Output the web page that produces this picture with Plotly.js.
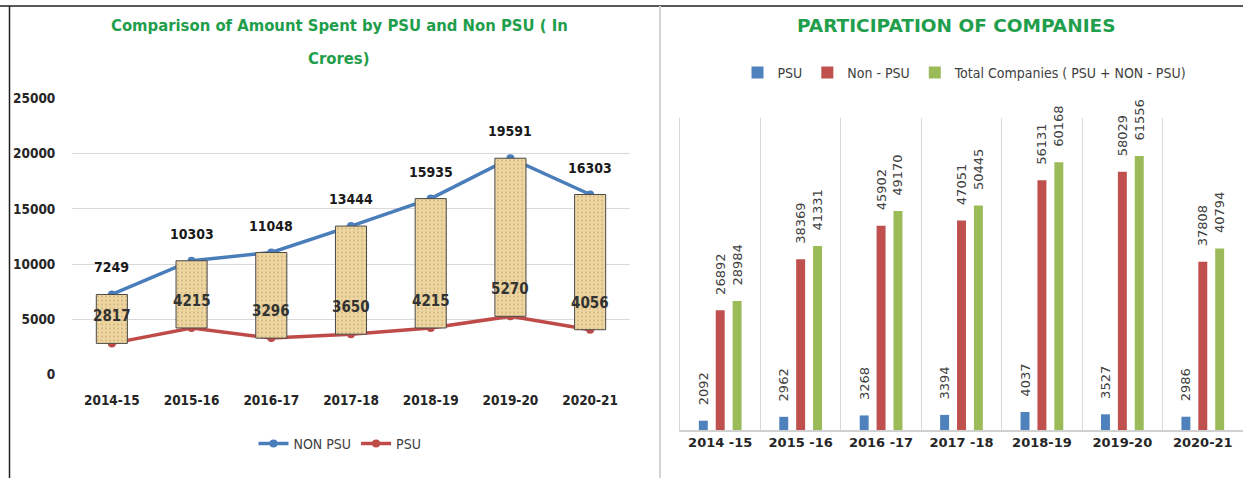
<!DOCTYPE html>
<html>
<head>
<meta charset="utf-8">
<script src="https://cdn.plot.ly/plotly-3.0.1.min.js"></script>
<style>html,body{margin:0;padding:0;background:#fff;}#chart{width:1243px;height:478px;}</style>
</head>
<body>
<div id="chart"></div>
<script>
// ---- Left chart data ----
const yearsLeft = ['2014-15','2015-16','2016-17','2017-18','2018-19','2019-20','2020-21'];
const nonPsuAmount = [7249,10303,11048,13444,15935,19591,16303];
const psuAmount = [2817,4215,3296,3650,4215,5270,4056];
const leftTicks = [0,5000,10000,15000,20000,25000];

// ---- Right chart data ----
const yearsRight = ['2014 -15','2015 -16','2016 -17','2017 -18','2018-19','2019-20','2020-21'];
const psuCompanies = [2092,2962,3268,3394,4037,3527,2986];
const nonPsuCompanies = [26892,38369,45902,47051,56131,58029,37808];
const totalCompanies = [28984,41331,49170,50445,60168,61556,40794];

const NARROW = '"Liberation Sans Narrow", "DejaVu Sans Condensed", Roboto, sans-serif';
const GREEN = '#1f9e4c';
const W = 1243, H = 478;
const px = v => v / W, py = v => (H - v) / H;

const pad = v => '\u00a0\u00a0\u00a0' + v;
const rightLabelFont = {family:'"DejaVu Sans", sans-serif', size:13, color:'#404040'};

const traces = [
  {type:'scatter', mode:'lines+markers', name:'NON PSU', x:yearsLeft, y:nonPsuAmount,
   xaxis:'x', yaxis:'y', legend:'legend',
   line:{color:'#4a7ebb', width:3.5}, marker:{color:'#4a7ebb', size:8}},
  {type:'scatter', mode:'lines+markers', name:'PSU', x:yearsLeft, y:psuAmount,
   xaxis:'x', yaxis:'y', legend:'legend',
   line:{color:'#be4b48', width:3.5}, marker:{color:'#be4b48', size:8}},
  {type:'bar', name:'updown', showlegend:false, x:yearsLeft,
   y:nonPsuAmount.map((v,i)=>v-psuAmount[i]), base:psuAmount,
   xaxis:'x3', yaxis:'y3', width:0.39,
   marker:{color:'#ecd39c', line:{color:'#4a4a4a', width:1},
           pattern:{shape:'.', bgcolor:'#edd6a2', fgcolor:'#d2b277', size:4, solidity:0.2}},
   hoverinfo:'skip'},
  {type:'bar', name:'PSU', x:yearsRight, y:psuCompanies, xaxis:'x2', yaxis:'y2', legend:'legend2',
   marker:{color:'#4f81bd'}, text:psuCompanies.map(pad), textposition:'outside', textangle:-90,
   constraintext:'none', cliponaxis:false, textfont:rightLabelFont},
  {type:'bar', name:'Non - PSU', x:yearsRight, y:nonPsuCompanies, xaxis:'x2', yaxis:'y2', legend:'legend2',
   marker:{color:'#c0504d'}, text:nonPsuCompanies.map(pad), textposition:'outside', textangle:-90,
   constraintext:'none', cliponaxis:false, textfont:rightLabelFont},
  {type:'bar', name:'Total Companies ( PSU + NON - PSU)', x:yearsRight, y:totalCompanies, xaxis:'x2', yaxis:'y2', legend:'legend2',
   marker:{color:'#9bbb59'}, text:totalCompanies.map(pad), textposition:'outside', textangle:-90,
   constraintext:'none', cliponaxis:false, textfont:rightLabelFont}
];

const annotations = [];
yearsLeft.forEach((c,i)=>{
  annotations.push({xref:'x', yref:'y', x:c, y:nonPsuAmount[i], yshift:27, text:String(nonPsuAmount[i]),
    showarrow:false, font:{family:NARROW, size:14, weight:'bold', color:'#1a1a1a'}});
  annotations.push({xref:'x', yref:'y', x:c, y:psuAmount[i], yshift:27, text:String(psuAmount[i]),
    showarrow:false, font:{family:NARROW, size:15, weight:'bold', color:'#333333'}});
});
annotations.push({xref:'paper', yref:'paper', x:px(339), y:py(25), text:'Comparison of Amount Spent by PSU and Non PSU ( In',
  showarrow:false, xanchor:'center', yanchor:'middle', font:{family:NARROW, size:16.5, weight:'bold', color:GREEN}});
annotations.push({xref:'paper', yref:'paper', x:px(338), y:py(58), text:'Crores)',
  showarrow:false, xanchor:'center', yanchor:'middle', font:{family:NARROW, size:16.5, weight:'bold', color:GREEN}});
annotations.push({xref:'paper', yref:'paper', x:px(956), y:py(25), text:'PARTICIPATION OF COMPANIES',
  showarrow:false, xanchor:'center', yanchor:'middle', font:{family:'"DejaVu Sans", sans-serif', size:18.5, weight:'bold', color:GREEN}});

const layout = {
  width:W, height:H, margin:{l:0,r:0,t:0,b:0},
  paper_bgcolor:'#fff', plot_bgcolor:'rgba(0,0,0,0)',
  barmode:'group', bargap:0.37, bargroupgap:0.47,
  showlegend:true,
  xaxis:{domain:[px(72), px(630)], anchor:'y', type:'category', range:[-0.5,6.5],
    showgrid:false, zeroline:false, showline:false,
    ticks:'outside', ticklen:13, tickcolor:'rgba(0,0,0,0)',
    tickfont:{family:NARROW, size:13.5, weight:'bold', color:'#262626'}},
  yaxis:{domain:[py(374.5), py(98.5)], anchor:'x', range:[0,25000],
    tickmode:'array', tickvals:leftTicks, ticktext:leftTicks.map(String),
    showgrid:true, gridcolor:'#d9d9d9', gridwidth:1, zeroline:false, showline:false,
    ticks:'outside', ticklen:13, tickcolor:'rgba(0,0,0,0)',
    tickfont:{family:NARROW, size:13.5, weight:'bold', color:'#262626'}},
  xaxis3:{overlaying:'x', anchor:'y3', type:'category', range:[-0.5,6.5], visible:false},
  yaxis3:{overlaying:'y', anchor:'x3', range:[0,25000], visible:false},
  xaxis2:{domain:[px(680), 1], anchor:'y2', type:'category', range:[-0.5,6.5],
    tickson:'boundaries', showgrid:true, gridcolor:'#d9d9d9', zeroline:false,
    showline:true, linecolor:'#d0d0d0', linewidth:1.5,
    ticks:'outside', ticklen:16, tickcolor:'rgba(0,0,0,0)',
    tickfont:{family:'"DejaVu Sans", sans-serif', size:13, weight:'bold', color:'#262626'}},
  yaxis2:{domain:[py(430), py(118.4)], anchor:'x2', range:[0,70000],
    showgrid:false, zeroline:false, showticklabels:false, showline:true, linecolor:'#d9d9d9', mirror:true},
  legend:{orientation:'h', x:px(340), xanchor:'center', y:py(444), yanchor:'middle',
    font:{family:NARROW, size:14, color:'#404040'}, itemwidth:30, bgcolor:'rgba(0,0,0,0)'},
  legend2:{orientation:'h', x:px(965), xanchor:'center', y:py(73), yanchor:'middle',
    font:{family:NARROW, size:14, color:'#404040'}, itemwidth:30, bgcolor:'rgba(0,0,0,0)'},
  annotations:annotations,
  shapes:[
    {type:'line', xref:'paper', yref:'paper', x0:0, x1:1, y0:py(6), y1:py(6), line:{color:'#222', width:1.5}},
    {type:'line', xref:'paper', yref:'paper', x0:px(9.5), x1:px(9.5), y0:0, y1:py(6), line:{color:'#222', width:1.5}},
    {type:'line', xref:'paper', yref:'paper', x0:px(660), x1:px(660), y0:0, y1:py(6), line:{color:'#d4d4d4', width:2}}
  ]
};

Plotly.newPlot('chart', traces, layout, {displayModeBar:false, staticPlot:true});
</script>
</body>
</html>
